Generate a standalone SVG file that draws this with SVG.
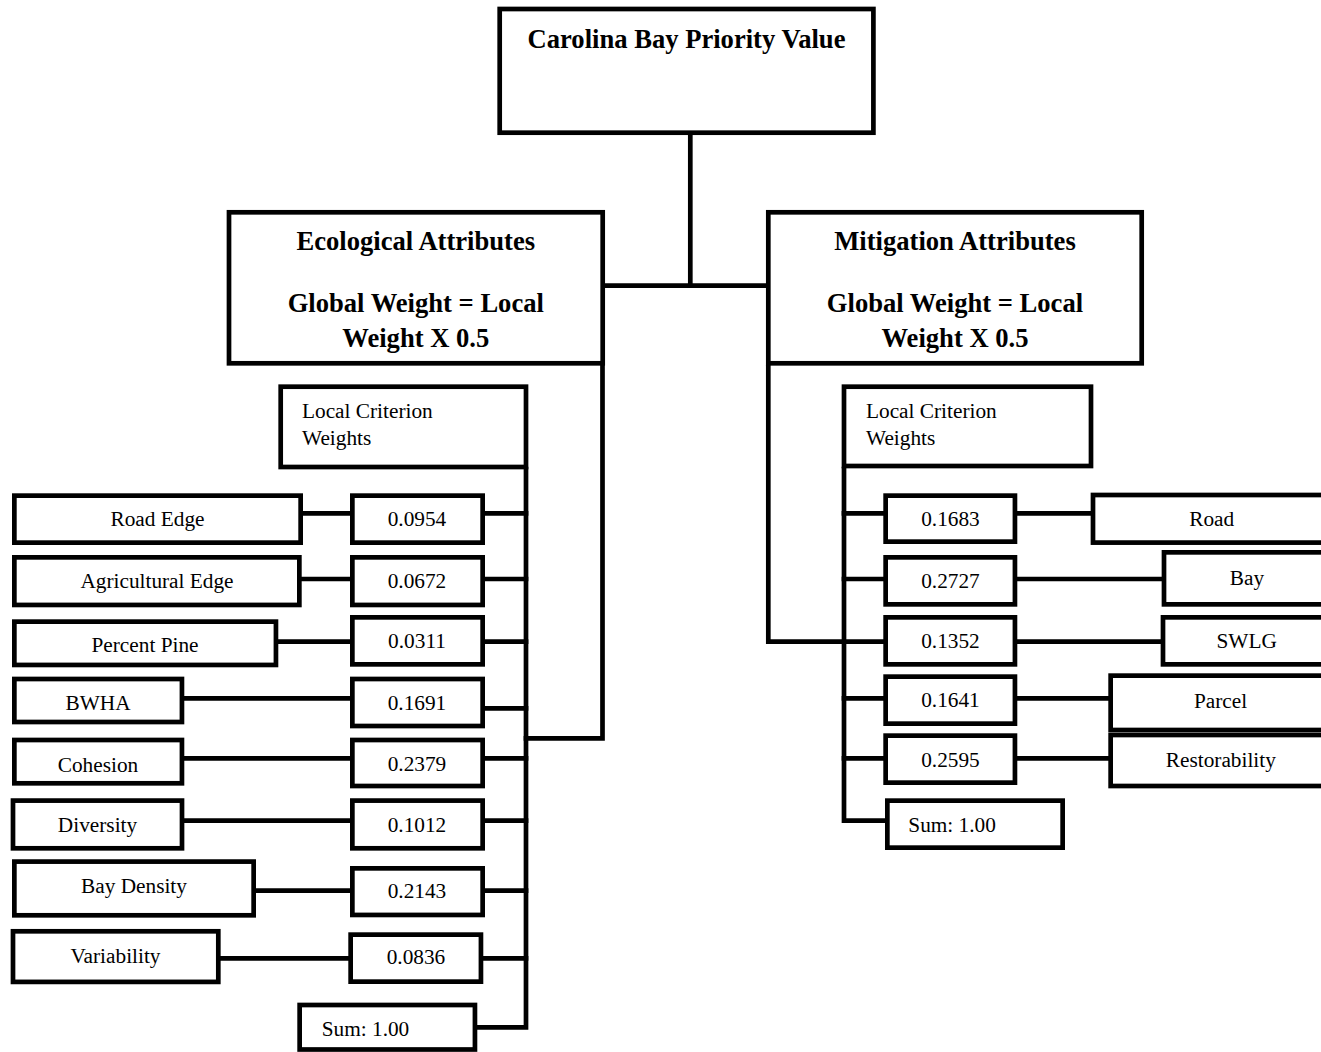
<svg xmlns="http://www.w3.org/2000/svg" width="1321" height="1052" viewBox="0 0 1321 1052">
<style>
.box{fill:#fff;stroke:#000;stroke-width:4.7}
.ln{fill:none;stroke:#000;stroke-width:4.7;stroke-linejoin:miter;stroke-linecap:square}
.t{font-family:"Liberation Serif","Times New Roman",serif;font-size:21.3px;fill:#000}
.c{text-anchor:middle}
.b{font-family:"Liberation Serif","Times New Roman",serif;font-size:26.6px;font-weight:bold;fill:#000;text-anchor:middle}
</style>
<rect width="1321" height="1052" fill="#fff"/>
<g id="connectors">
<path class="ln" d="M690.3 135V285.7M604 285.7H766"/>
<path class="ln" d="M602.5 367V738.3H526"/>
<path class="ln" d="M768.3 367V641.7H883"/>
<path class="ln" d="M526 469V1027.3H478"/>
<path class="ln" d="M844 469V820.7H885"/>
<path class="ln" d="M301 513.3H350M300 579H350M276 641.7H350M182 698.3H350M182 758.3H350M182 820.7H350M254 890.7H350M218 958.3H348"/>
<path class="ln" d="M485 513.3H526M485 579H526M485 641.7H526M485 708.3H526M485 758.3H526M485 820.7H526M485 890.7H526M483 958.3H526"/>
<path class="ln" d="M844 513.3H883M844 579H883M844 698.3H883M844 758.3H883"/>
<path class="ln" d="M1017 513.3H1093M1017 579H1164M1017 641.7H1163M1017 698.3H1110M1017 758.3H1110"/>
</g>
<g id="root"><rect class="box" x="499.7" y="9" width="373.7" height="123.7"/><text class="b" x="686.5" y="48">Carolina Bay Priority Value</text></g>
<g id="ecological"><rect class="box" x="229" y="212.3" width="373.7" height="151"/><text class="b" x="415.8" y="250">Ecological Attributes</text><text class="b" x="415.8" y="311.7">Global Weight = Local</text><text class="b" x="415.8" y="346.7">Weight X 0.5</text></g>
<g id="mitigation"><rect class="box" x="768.3" y="212.3" width="373.4" height="151"/><text class="b" x="955" y="250">Mitigation Attributes</text><text class="b" x="955" y="311.7">Global Weight = Local</text><text class="b" x="955" y="346.7">Weight X 0.5</text></g>
<g id="eco-local"><rect class="box" x="280.7" y="386.7" width="245.3" height="80.3"/><text class="t" x="302" y="418.3">Local Criterion</text><text class="t" x="302" y="445">Weights</text></g>
<g id="mit-local"><rect class="box" x="844" y="386.7" width="247" height="79.3"/><text class="t" x="866" y="418.3">Local Criterion</text><text class="t" x="866" y="445">Weights</text></g>
<g id="road-edge"><rect class="box" x="14.35" y="495.65" width="286.3" height="47"/><text class="t c" x="157.5" y="525.7">Road Edge</text></g>
<g id="agricultural-edge"><rect class="box" x="14.35" y="557.35" width="285" height="47.6"/><text class="t c" x="157" y="588">Agricultural Edge</text></g>
<g id="percent-pine"><rect class="box" x="14.35" y="621.65" width="261.6" height="43.3"/><text class="t c" x="145" y="651.7">Percent Pine</text></g>
<g id="bwha"><rect class="box" x="14.35" y="679" width="167.6" height="43"/><text class="t c" x="98" y="710">BWHA</text></g>
<g id="cohesion"><rect class="box" x="14.35" y="740" width="167.6" height="43.3"/><text class="t c" x="98" y="772.3">Cohesion</text></g>
<g id="diversity"><rect class="box" x="13" y="800.6" width="169" height="47.7"/><text class="t c" x="97.5" y="832.3">Diversity</text></g>
<g id="bay-density"><rect class="box" x="14.35" y="861.6" width="239.3" height="53.7"/><text class="t c" x="134" y="893.3">Bay Density</text></g>
<g id="variability"><rect class="box" x="13" y="931.3" width="205.3" height="50.6"/><text class="t c" x="115.5" y="962.7">Variability</text></g>
<g id="w-road-edge"><rect class="box" x="352.35" y="495.65" width="130.3" height="47"/><text class="t c" x="417" y="525.7">0.0954</text></g>
<g id="w-agricultural-edge"><rect class="box" x="352.35" y="557.35" width="130.3" height="47.6"/><text class="t c" x="417" y="588.3">0.0672</text></g>
<g id="w-percent-pine"><rect class="box" x="352.35" y="617.35" width="130.3" height="47"/><text class="t c" x="417" y="647.7">0.0311</text></g>
<g id="w-bwha"><rect class="box" x="352.35" y="679" width="130.3" height="47"/><text class="t c" x="417" y="710">0.1691</text></g>
<g id="w-cohesion"><rect class="box" x="352.35" y="740" width="130.3" height="46"/><text class="t c" x="417" y="770.7">0.2379</text></g>
<g id="w-diversity"><rect class="box" x="352.35" y="800.6" width="130.3" height="47.7"/><text class="t c" x="417" y="831.7">0.1012</text></g>
<g id="w-bay-density"><rect class="box" x="352.35" y="868.35" width="130.3" height="46.6"/><text class="t c" x="417" y="898.3">0.2143</text></g>
<g id="w-variability"><rect class="box" x="350.65" y="934.65" width="130.3" height="47"/><text class="t c" x="416" y="964.3">0.0836</text></g>
<g id="eco-sum"><rect class="box" x="299.65" y="1005" width="175.3" height="44.5"/><text class="t" x="321.7" y="1035.7">Sum: 1.00</text></g>
<g id="w-road"><rect class="box" x="885.65" y="495.65" width="129.3" height="46"/><text class="t c" x="950.5" y="525.7">0.1683</text></g>
<g id="w-bay"><rect class="box" x="885.65" y="557.35" width="129.3" height="47"/><text class="t c" x="950.5" y="588.3">0.2727</text></g>
<g id="w-swlg"><rect class="box" x="885.65" y="617.35" width="129.3" height="47"/><text class="t c" x="950.5" y="647.7">0.1352</text></g>
<g id="w-parcel"><rect class="box" x="885.65" y="676.65" width="129.3" height="47"/><text class="t c" x="950.5" y="706.7">0.1641</text></g>
<g id="w-restorability"><rect class="box" x="885.65" y="735.65" width="129.3" height="47"/><text class="t c" x="950.5" y="766.7">0.2595</text></g>
<g id="mit-sum"><rect class="box" x="887.35" y="800.65" width="175.3" height="47"/><text class="t" x="908.3" y="831.7">Sum: 1.00</text></g>
<g id="road"><rect class="box" x="1093" y="495" width="240" height="47.6"/><text class="t c" x="1211.7" y="525.7">Road</text></g>
<g id="bay"><rect class="box" x="1164" y="552.35" width="170" height="52"/><text class="t c" x="1247" y="585">Bay</text></g>
<g id="swlg"><rect class="box" x="1163" y="617.35" width="170" height="47"/><text class="t c" x="1246.7" y="647.7">SWLG</text></g>
<g id="parcel"><rect class="box" x="1110.65" y="675.65" width="222" height="54.35"/><text class="t c" x="1220.5" y="707.7">Parcel</text></g>
<g id="restorability"><rect class="box" x="1110.65" y="735" width="222" height="51"/><text class="t c" x="1220.8" y="766.7">Restorability</text></g>
</svg>
